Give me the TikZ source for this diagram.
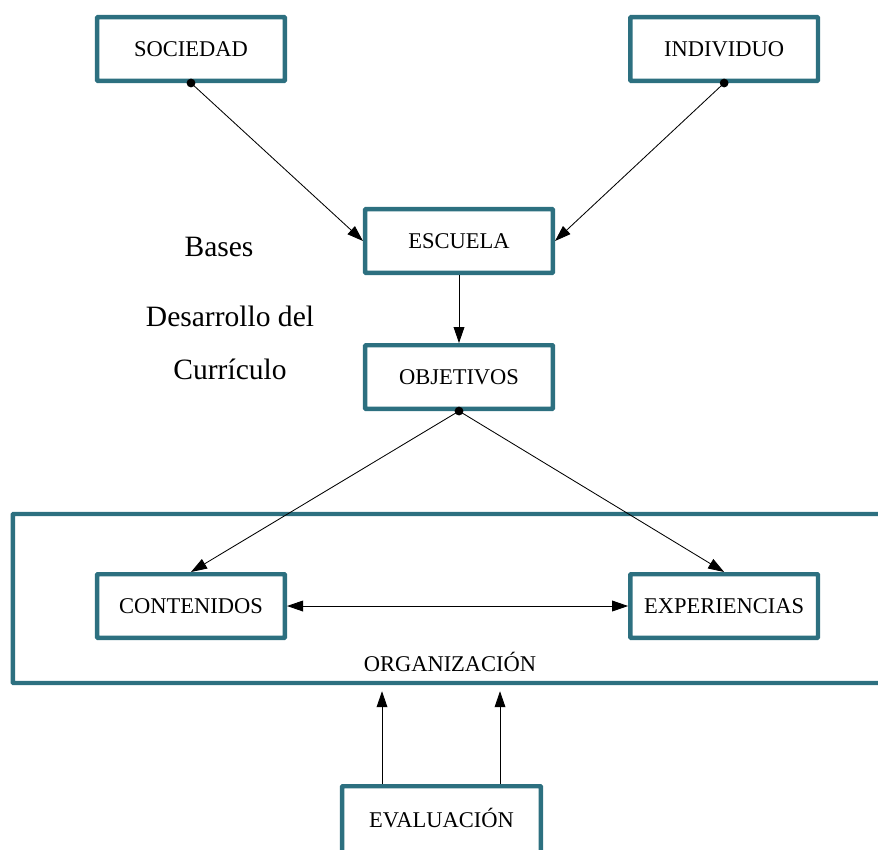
\documentclass[tikz,border=0pt]{standalone}
\usepackage{fontspec}
\setmainfont{Liberation Serif}
\usetikzlibrary{arrows.meta, positioning}
\definecolor{boxteal}{RGB}{45,112,128}

\begin{document}
\begin{tikzpicture}[x=0.025cm,y=-0.025cm,>={Triangle[length=0.4cm,width=0.27cm]},line width=0.6pt,node distance=3cm,
    box/.style={draw=boxteal,line width=1.1mm,rounded corners=0.5pt,minimum width=4.69cm,minimum height=1.59cm,inner sep=0pt,font=\fontsize{16}{19}\selectfont},
    txt/.style={font=\fontsize{16}{19}\selectfont},
    bases/.style={font=\fontsize{21}{25}\selectfont},
    dot/.style={fill,circle,inner sep=0pt,minimum size=0.22cm}]
                        \useasboundingbox (0,0) rectangle (878,849);
                        \node[box]                                        (soc)  at (191,49)              {SOCIEDAD};
                        \node[box]                                        (ind)  [right of=soc,node distance=13.325cm] {INDIVIDUO};
                        \node[box]                                        (esc)  at (459,241)             {ESCUELA};
                        \node[box]                                        (obj)  [below of=esc,node distance=3.4cm]    {OBJETIVOS};
                        \node[box,minimum width=22.175cm,minimum height=4.225cm] (org) at (456.5,598.5)    {};
                        \node[txt]                                        (orgt) at (450,662)             {ORGANIZACIÓN};
                        \node[box]                                        (cont) at (191,606)             {CONTENIDOS};
                        \node[box]                                        (exp)  [right of=cont,node distance=13.325cm] {EXPERIENCIAS};
                        \node[box,minimum width=4.97cm,minimum height=1.8cm,text depth=0.2cm] (eval) at (441.5,822.2) {EVALUACIÓN};
                        \node[bases]                                      (bas)  at (219,247)             {Bases};
                        \node[bases]                                      (des)  at (230,316)             {Desarrollo del};
                        \node[bases]                                      (cur)  at (230,369)             {Currículo};
                        \node[dot]                                        (socd) at (soc.south)           {};
                        \node[dot]                                        (indd) at (ind.south)           {};
                        \node[dot]                                        (objd) at (obj.south)           {};
                        \coordinate                                       (ev1)  at (382,784);
                        \coordinate                                       (ev2)  at (500,784);
                        \path[->] (socd.center) edge                   (esc.west);
                        \path[->] (indd.center) edge                   (esc.east);
                        \path[->] (esc)         edge                   (obj);
                        \path[->] (objd.center) edge                   (cont.north);
                        \path[->] (objd.center) edge                   (exp.north);
                        \path[<->] (cont)       edge                   (exp);
                        \path[->] (ev1)         edge [shorten >=0.15cm] (ev1 |- org.south);
                        \path[->] (ev2)         edge [shorten >=0.15cm] (ev2 |- org.south);
                    \end{tikzpicture}
\end{document}
